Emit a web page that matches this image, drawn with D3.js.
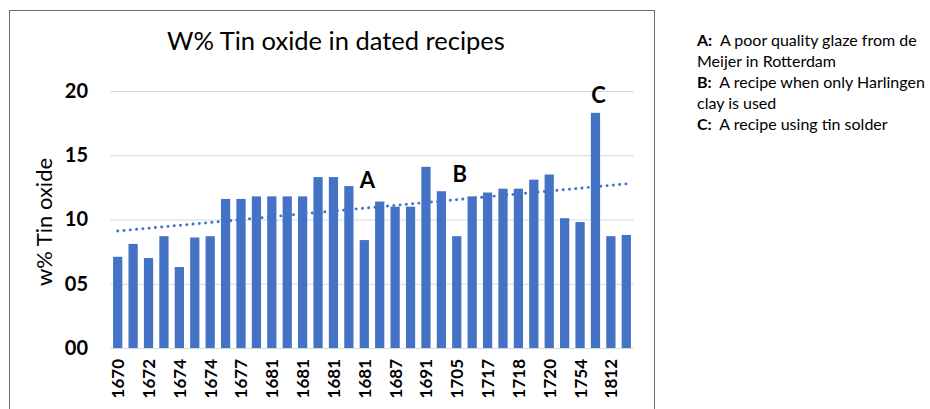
<!DOCTYPE html>
<html>
<head>
<meta charset="utf-8">
<script src="https://cdn.jsdelivr.net/npm/d3@7"></script>
<style>
  html, body { margin: 0; padding: 0; background: #fff; }
  svg { display: block; }
</style>
</head>
<body>
<svg id="chart" width="930" height="409"></svg>
<script>
// Tin oxide content (weight %) of 34 dated glaze recipes, in date order
const tinOxide = [
  7.1, 8.1, 7.0, 8.7, 6.3, 8.6, 8.7, 11.6, 11.6, 11.8,
  11.8, 11.8, 11.8, 13.3, 13.3, 12.6, 8.4, 11.4, 11.0, 11.0,
  14.1, 12.2, 8.7, 11.8, 12.1, 12.4, 12.4, 13.1, 13.5, 10.1,
  9.8, 18.3, 8.7, 8.8
];

// Year labels shown under every other recipe
const yearTicks = [
  "1670", "1672", "1674", "1674", "1677", "1681", "1681", "1681", "1681",
  "1687", "1691", "1705", "1717", "1718", "1720", "1754", "1812"
];

// Value-axis ticks
const yTicks = [0, 5, 10, 15, 20];

// Lettered notes: recipe index, letter, level (w%) of the letter's baseline
const noteBars = [16, 22, 31];
const noteLetters = ["A", "B", "C"];
const noteLevels = [12.45, 12.9, 19.05];

// Side notes explaining the letters
const noteKeys = ["A:", "", "B:", "", "C:"];
const noteTexts = [
  "  A poor quality glaze from de",
  "Meijer in Rotterdam",
  "  A recipe when only Harlingen",
  "clay is used",
  "  A recipe using tin solder"
];

const BLUE = "#4472C4";
const FONT = "Lato, 'Open Sans', sans-serif";

const svg = d3.select("#chart");

// Chart frame
svg.append("rect")
  .attr("x", 9.5).attr("y", 10.5)
  .attr("width", 645).attr("height", 420)
  .attr("fill", "#fff")
  .attr("stroke", "#6b6b6b")
  .attr("stroke-width", 1);

const plot = { left: 110, right: 634, top: 91, bottom: 348 };

const x = d3.scaleBand()
  .domain(d3.range(tinOxide.length))
  .range([plot.left, plot.right])
  .paddingInner(0.4)
  .paddingOuter(0.2);

const y = d3.scaleLinear()
  .domain([0, 20])
  .range([plot.bottom, plot.top]);

// Value axis with gridlines
const yAxis = svg.append("g")
  .attr("transform", `translate(${plot.left},0)`)
  .call(d3.axisLeft(y)
    .tickValues(yTicks)
    .tickFormat(d3.format("02d"))
    .tickSize(-(plot.right - plot.left))
    .tickPadding(22));
yAxis.select(".domain").remove();
yAxis.selectAll(".tick line")
  .attr("stroke", "#d9d9d9")
  .attr("stroke-width", 1.2);
yAxis.selectAll(".tick text")
  .attr("fill", "#000")
  .style("font-family", FONT)
  .style("font-size", "20px")
  .style("font-weight", "bold");

// Bars
svg.append("g")
  .selectAll("rect")
  .data(tinOxide)
  .join("rect")
  .attr("x", (d, i) => x(i))
  .attr("y", d => y(d))
  .attr("width", x.bandwidth())
  .attr("height", d => y(0) - y(d))
  .attr("fill", BLUE);

// Linear trend (least squares over the recipe order)
const idx = d3.range(tinOxide.length);
const mx = d3.mean(idx), my = d3.mean(tinOxide);
const sxy = d3.sum(idx, i => (i - mx) * (tinOxide[i] - my));
const sxx = d3.sum(idx, i => (i - mx) * (i - mx));
const slope = sxy / sxx, intercept = my - slope * mx;
const trendEnds = [0, tinOxide.length - 1];

svg.append("path")
  .datum(trendEnds)
  .attr("d", d3.line()
    .x(i => x(i) + x.bandwidth() / 2)
    .y(i => y(intercept + slope * i)))
  .attr("fill", "none")
  .attr("stroke", BLUE)
  .attr("stroke-width", 2.9)
  .attr("stroke-linecap", "round")
  .attr("stroke-dasharray", "0.1 6.2");

// Category axis: year under every other bar
const xAxis = svg.append("g")
  .attr("transform", `translate(0,${plot.bottom})`)
  .call(d3.axisBottom(x)
    .tickValues(idx.filter(i => i % 2 === 0))
    .tickFormat(i => yearTicks[i / 2])
    .tickSize(0));
xAxis.select(".domain").remove();
xAxis.selectAll(".tick text")
  .attr("fill", "#000")
  .attr("transform", "rotate(-90)")
  .attr("text-anchor", "end")
  .attr("x", -11)
  .attr("y", 0)
  .attr("dy", "0.38em")
  .style("font-family", FONT)
  .style("font-size", "17px")
  .style("font-weight", "bold");

// Value-axis title
svg.append("text")
  .attr("transform", "translate(52,222) rotate(-90)")
  .attr("text-anchor", "middle")
  .attr("fill", "#000")
  .style("font-family", FONT)
  .style("font-size", "22px")
  .text("w% Tin oxide");

// Chart title
svg.append("text")
  .attr("x", 336).attr("y", 50)
  .attr("text-anchor", "middle")
  .attr("fill", "#000")
  .style("font-family", FONT)
  .style("font-size", "25.5px")
  .text("W% Tin oxide in dated recipes");

// Letters over the noted recipes
svg.append("g")
  .selectAll("text")
  .data(noteBars)
  .join("text")
  .attr("x", (b, k) => x(b) + x.bandwidth() / 2 + 3)
  .attr("y", (b, k) => y(noteLevels[k]))
  .attr("text-anchor", "middle")
  .attr("fill", "#000")
  .style("font-family", FONT)
  .style("font-size", "22px")
  .style("font-weight", "bold")
  .text((b, k) => noteLetters[k]);

// Side notes
const notes = svg.append("g")
  .style("font-family", FONT)
  .style("font-size", "16px")
  .attr("fill", "#000");
noteTexts.forEach((t, k) => {
  const line = notes.append("text")
    .attr("x", 697)
    .attr("y", 46 + k * 21)
    .attr("xml:space", "preserve")
    .style("white-space", "pre");
  if (noteKeys[k]) {
    line.append("tspan").style("font-weight", "bold").text(noteKeys[k]);
  }
  line.append("tspan").text(t);
});
</script>
</body>
</html>
